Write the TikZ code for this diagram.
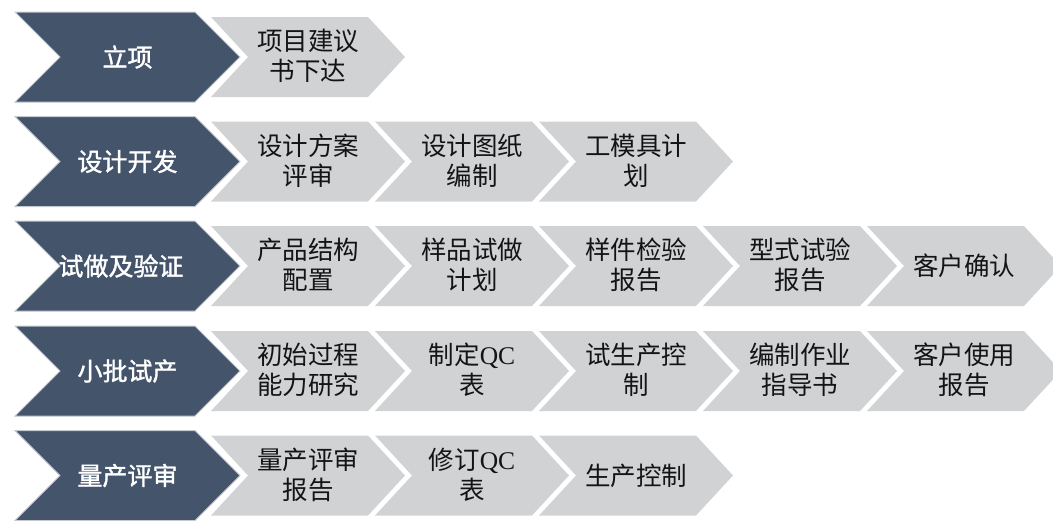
\documentclass[tikz,border=0pt]{standalone}
\usepackage{fontspec}
\setmainfont{Liberation Serif}
\newfontfamily\cjk{Noto Sans CJK SC}
\newfontfamily\cjkb{Noto Sans CJK SC}[FakeBold=1.4]
\definecolor{dk}{HTML}{44546A}
\definecolor{dkedge}{HTML}{C4C9D0}
\definecolor{lg}{HTML}{D1D2D4}
\definecolor{tx}{HTML}{141414}
\begin{document}
\begin{tikzpicture}[x=1pt,y=-1pt,
  darkc/.style={fill=dk,draw=dkedge,line width=1pt,line join=miter},
  grayc/.style={fill=lg},
  dtext/.style={text=white,font=\cjkb\fontsize{25}{30}\selectfont,align=center,inner sep=0pt},
  gtext/.style={text=tx,font=\cjk\fontsize{25.5}{30}\selectfont,align=center,inner sep=0pt}]
\useasboundingbox (0,0) rectangle (1053,520);
\foreach \c/\n in {57/1,161.5/3,266/5,371/5,475.5/3} {
  \fill[darkc] (15,\c-45) -- (195,\c-45) -- (240,\c) -- (195,\c+45) -- (15,\c+45) -- (60,\c) -- cycle;
  \foreach \k in {1,...,\n} {
    \pgfmathsetmacro\xo{211+164*(\k-1)}
    \fill[grayc] (\xo,\c-40) -- (\xo+157,\c-40) -- (\xo+194,\c) -- (\xo+157,\c+40) -- (\xo,\c+40) -- (\xo+37,\c) -- cycle;
  }
}
% dark labels
\node[dtext] (d1) at (127.5,57) {立项};
\node[dtext] (d2) at (127.5,161.5) {设计开发};
\node[dtext] (d3) at (121,266) {试做及验证};
\node[dtext] (d4) at (127.5,371) {小批试产};
\node[dtext] (d5) at (127.5,475.5) {量产评审};
% row 1
\node[gtext] (g11) at (308,56) {项目建议\\书下达};
% row 2
\node[gtext] (g21) at (308,160.5) {设计方案\\评审};
\node[gtext] (g22) at (472,160.5) {设计图纸\\编制};
\node[gtext] (g23) at (636,160.5) {工模具计\\划};
% row 3
\node[gtext] (g31) at (308,265) {产品结构\\配置};
\node[gtext] (g32) at (472,265) {样品试做\\计划};
\node[gtext] (g33) at (636,265) {样件检验\\报告};
\node[gtext] (g34) at (800,265) {型式试验\\报告};
\node[gtext] (g35) at (964,266) {客户确认};
% row 4
\node[gtext] (g41) at (308,370) {初始过程\\能力研究};
\node[gtext] (g42) at (472,370) {制定{\rmfamily QC}\\表};
\node[gtext] (g43) at (636,370) {试生产控\\制};
\node[gtext] (g44) at (800,370) {编制作业\\指导书};
\node[gtext] (g45) at (964,370) {客户使用\\报告};
% row 5
\node[gtext] (g51) at (308,474.5) {量产评审\\报告};
\node[gtext] (g52) at (472,474.5) {修订{\rmfamily QC}\\表};
\node[gtext] (g53) at (636,475.5) {生产控制};
\end{tikzpicture}
\end{document}
